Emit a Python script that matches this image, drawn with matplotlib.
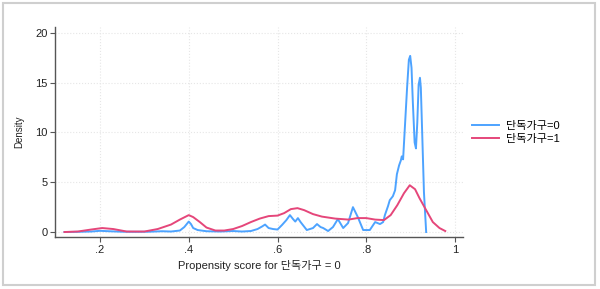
import matplotlib
matplotlib.use("Agg")
import matplotlib.pyplot as plt
from matplotlib.patches import Rectangle

plt.rcParams['font.family'] = ['Liberation Sans', 'Noto Sans CJK KR', 'DejaVu Sans']

# Density estimates
blue_x = [0.12, 0.15, 0.18, 0.20, 0.22, 0.25, 0.28, 0.31, 0.34, 0.36, 0.38, 0.39,
          0.40, 0.405, 0.41, 0.42, 0.44, 0.47, 0.50, 0.52, 0.54, 0.555, 0.565,
          0.572, 0.58, 0.59, 0.60, 0.61, 0.62, 0.628, 0.635, 0.64, 0.646, 0.652,
          0.666, 0.68, 0.689, 0.697, 0.703, 0.714, 0.725, 0.736, 0.748, 0.759,
          0.770, 0.781, 0.793, 0.808, 0.820, 0.831, 0.838, 0.842, 0.849, 0.853,
          0.860, 0.865, 0.869, 0.874, 0.878, 0.880, 0.883, 0.887, 0.892, 0.896,
          0.899, 0.902, 0.905, 0.909, 0.912, 0.915, 0.918, 0.921, 0.923, 0.926,
          0.930, 0.935]
blue_y = [0.0, 0.02, 0.05, 0.12, 0.08, 0.03, 0.02, 0.03, 0.08, 0.05, 0.15, 0.5,
          1.05, 0.8, 0.4, 0.2, 0.08, 0.05, 0.1, 0.05, 0.1, 0.3, 0.55,
          0.75, 0.4, 0.3, 0.25, 0.7, 1.2, 1.7, 1.3, 1.05, 1.4, 1.0,
          0.2, 0.4, 0.8, 0.5, 0.4, 0.1, 0.5, 1.3, 0.4, 0.9,
          2.5, 1.5, 0.2, 0.2, 1.0, 0.8, 1.0, 1.7, 2.6, 3.2,
          3.6, 4.2, 5.8, 6.7, 7.2, 7.6, 7.3, 10.5, 14.5, 17.3,
          17.7, 16.5, 13.0, 9.0, 8.4, 11.0, 14.8, 15.5, 14.5, 10.0,
          4.0, 0.0]

red_x = [0.12, 0.15, 0.18, 0.205, 0.23, 0.26, 0.30, 0.33, 0.36, 0.38, 0.40, 0.41,
         0.425, 0.44, 0.46, 0.48, 0.50, 0.52, 0.54, 0.56, 0.58, 0.60, 0.615,
         0.63, 0.645, 0.66, 0.68, 0.70, 0.73, 0.76, 0.78, 0.80, 0.82, 0.84,
         0.855, 0.87, 0.885, 0.898, 0.91, 0.92, 0.935, 0.95, 0.965, 0.978]
red_y = [0.0, 0.05, 0.25, 0.4, 0.3, 0.05, 0.05, 0.3, 0.75, 1.25, 1.7, 1.5,
         1.0, 0.45, 0.15, 0.15, 0.3, 0.6, 1.0, 1.35, 1.6, 1.65, 1.9,
         2.3, 2.4, 2.2, 1.8, 1.55, 1.35, 1.25, 1.4, 1.4, 1.25, 1.2,
         1.7, 2.7, 3.9, 4.7, 4.3, 3.4, 2.2, 1.0, 0.4, 0.1]

labels = ['단독가구=0', '단독가구=1']
x_ticks = [0.2, 0.4, 0.6, 0.8, 1.0]
x_tick_labels = ['.2', '.4', '.6', '.8', '1']
y_ticks = [0, 5, 10, 15, 20]

fig = plt.figure(figsize=(6, 2.89), dpi=100)
ax = fig.add_axes([55 / 600, 52 / 289, 408 / 600, 210 / 289])

ax.plot(blue_x, blue_y, color='#4da3ff', lw=1.4, label=labels[0])
ax.plot(red_x, red_y, color='#e5467a', lw=1.4, label=labels[1])

ax.set_xlim(0.0986, 1.018)
ax.set_ylim(-0.5, 20.6)
ax.set_xticks(x_ticks)
ax.set_xticklabels(x_tick_labels)
ax.set_yticks(y_ticks)
ax.grid(True, color='#e6e6e6', linestyle=':', lw=0.8)

for s in ['top', 'right']:
    ax.spines[s].set_visible(False)
for s in ['left', 'bottom']:
    ax.spines[s].set_color('#555555')
    ax.spines[s].set_linewidth(1.0)
ax.tick_params(direction='out', length=3.5, width=0.8, color='#555555',
               labelsize=8, labelcolor='#222222', pad=2)

ax.set_ylabel('Density', fontsize=7, color='#222222', labelpad=8)
ax.set_xlabel('Propensity score for 단독가구 = 0', fontsize=8, color='#222222', labelpad=4)

fig.legend(loc='upper left', bbox_to_anchor=(472 / 600, 1 - 121 / 289),
           frameon=False, fontsize=8, handlelength=2.4, handletextpad=0.7,
           labelspacing=0.3, borderpad=0, borderaxespad=0)

fig.patches.append(Rectangle((3 / 600, 4 / 289), 592 / 600, 282 / 289,
                             transform=fig.transFigure, fill=False,
                             edgecolor='#cfcfcf', lw=1.5))

fig.savefig('out.png', dpi=100)
